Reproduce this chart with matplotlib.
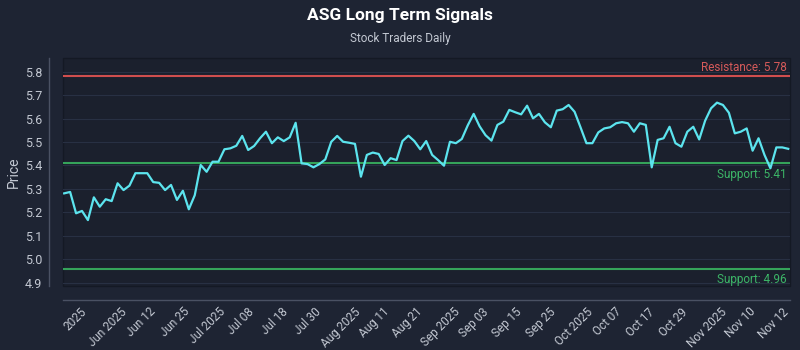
import matplotlib
matplotlib.use("Agg")
import matplotlib.pyplot as plt
import matplotlib.transforms as mtransforms
import numpy as np

plt.rcParams['font.family'] = ['Roboto', 'DejaVu Sans']

# price series (one value per trading day)
prices = [
    5.281, 5.287, 5.196, 5.206, 5.167, 5.264, 5.224, 5.256, 5.248, 5.324,
    5.295, 5.314, 5.367, 5.367, 5.367, 5.329, 5.326, 5.295, 5.317, 5.253,
    5.292, 5.213, 5.273, 5.402, 5.373, 5.416, 5.416, 5.469, 5.473, 5.484,
    5.526, 5.466, 5.483, 5.516, 5.544, 5.495, 5.520, 5.504, 5.520, 5.582,
    5.409, 5.406, 5.392, 5.406, 5.426, 5.501, 5.526, 5.501, 5.497, 5.492,
    5.352, 5.445, 5.455, 5.449, 5.402, 5.431, 5.423, 5.504, 5.527, 5.504,
    5.469, 5.504, 5.445, 5.423, 5.399, 5.501, 5.495, 5.513, 5.571, 5.620,
    5.567, 5.529, 5.506, 5.573, 5.587, 5.637, 5.627, 5.618, 5.655, 5.601,
    5.620, 5.584, 5.563, 5.634, 5.640, 5.658, 5.629, 5.563, 5.495, 5.495,
    5.541, 5.558, 5.563, 5.580, 5.585, 5.580, 5.544, 5.580, 5.573, 5.392,
    5.509, 5.516, 5.565, 5.495, 5.480, 5.544, 5.565, 5.511, 5.591, 5.644,
    5.668, 5.658, 5.625, 5.537, 5.544, 5.558, 5.463, 5.516, 5.445, 5.388,
    5.477, 5.477, 5.471,
]

tick_labels = [
    "2025", "Jun 2025", "Jun 12", "Jun 25", "Jul 2025", "Jul 08", "Jul 18",
    "Jul 30", "Aug 2025", "Aug 11", "Aug 21", "Sep 2025", "Sep 03", "Sep 15",
    "Sep 25", "Oct 2025", "Oct 07", "Oct 17", "Oct 29", "Nov 2025", "Nov 10",
    "Nov 12",
]

resistance = [5.78]
support = [5.41, 4.96]

bg = '#1e2433'
plot_bg = '#1b202d'
text_col = '#c3c8d2'
red = '#d04e4e'
green = '#35a35a'
cyan = '#5ce4ee'

fig = plt.figure(figsize=(8, 3.5), dpi=100, facecolor=bg)
ax = fig.add_axes([0.07875, 0.183, 0.90875, 0.651])
ax.set_facecolor(plot_bg)
ax.patch.set_edgecolor('#141924')
ax.patch.set_linewidth(1.0)

x = np.arange(len(prices))
ax.plot(x, prices, color=cyan, linewidth=1.6, zorder=5)

trans = mtransforms.blended_transform_factory(ax.transAxes, ax.transData)
for r in resistance:
    ax.axhline(r, color=red, linewidth=1.5, zorder=3)
    ax.text(0.996, r + 0.012, f"Resistance: {r:.2f}", transform=trans,
            ha='right', va='bottom', color='#d65a5a', fontsize=8.5)
for s in support:
    ax.axhline(s, color=green, linewidth=1.5, zorder=3)
    ax.text(0.996, s - 0.02, f"Support: {s:.2f}", transform=trans,
            ha='right', va='top', color='#3cb567', fontsize=8.5)

ax.set_xlim(-0.2, len(prices) - 1 + 0.3)
ax.set_ylim(4.886, 5.858)

yt = np.round(np.arange(4.9, 5.81, 0.1), 1)
ax.set_yticks(yt)
ax.set_yticklabels([f"{v:.1f}" for v in yt])
ax.yaxis.grid(True, color='#283043', linewidth=0.8, zorder=0)
ax.xaxis.grid(False)
ax.set_axisbelow(True)

ticks = np.linspace(1.8, 119.5, len(tick_labels))
ax.set_xticks(ticks)
ax.set_xticklabels(tick_labels)

ax.tick_params(axis='both', length=0, colors=text_col)
ax.tick_params(axis='y', pad=5, labelsize=9)
ax.tick_params(axis='x', pad=4, labelsize=8.5, labelrotation=45)
for lbl in ax.get_xticklabels():
    lbl.set_horizontalalignment('right')

for side in ['top', 'right']:
    ax.spines[side].set_visible(False)
for side in ['left', 'bottom']:
    ax.spines[side].set_position(('outward', 10))
    ax.spines[side].set_color('#4a5163')
    ax.spines[side].set_linewidth(1.0)

ax.set_ylabel("Price", color=text_col, fontsize=10, labelpad=3)

fig.text(0.5, 0.955, "ASG Long Term Signals", ha='center', va='center',
         color='white', fontsize=12.5, fontweight='bold')
fig.text(0.5, 0.89, "Stock Traders Daily", ha='center', va='center',
         color=text_col, fontsize=8.5)

fig.savefig("out.png", dpi=100, facecolor=bg)
